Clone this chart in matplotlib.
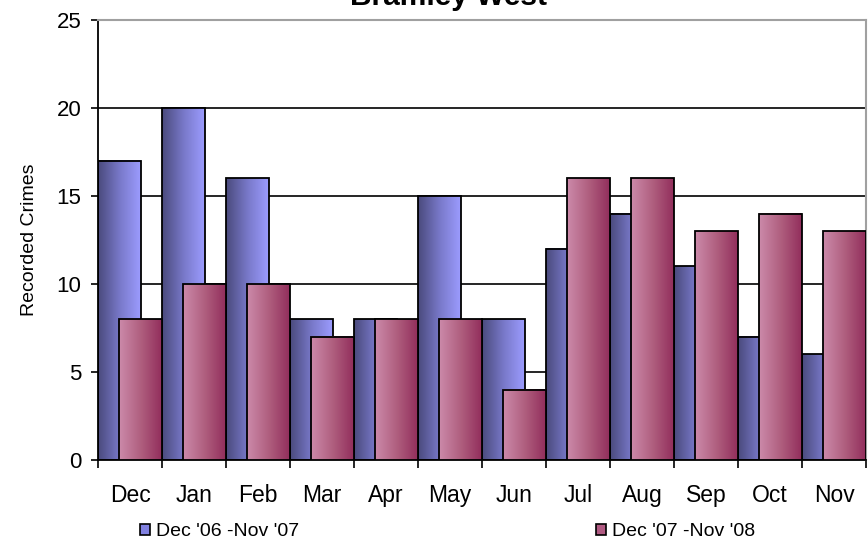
import matplotlib
matplotlib.use("Agg")
import matplotlib.pyplot as plt
import numpy as np
from matplotlib.colors import LinearSegmentedColormap
from matplotlib.patches import Patch

months = ["Dec", "Jan", "Feb", "Mar", "Apr", "May", "Jun", "Jul", "Aug", "Sep", "Oct", "Nov"]
crimes_0607 = [17, 20, 16, 8, 8, 15, 8, 12, 14, 11, 7, 6]
crimes_0708 = [8, 10, 10, 7, 8, 8, 4, 16, 16, 13, 14, 13]
series_names = ["Dec '06 -Nov '07", "Dec '07 -Nov '08"]

plt.rcParams['font.family'] = ['Liberation Sans', 'DejaVu Sans']

blue_cmap = LinearSegmentedColormap.from_list("b", ["#4a4a7c", "#7878c8", "#9c9cff"])
pink_cmap = LinearSegmentedColormap.from_list("p", ["#cc8aaa", "#b0607f", "#922e5c"])


def gradient_bars(ax, bars, cmap, z):
    g = np.linspace(0, 1, 256).reshape(1, -1)
    for b in bars:
        x0 = b.get_x()
        w = b.get_width()
        h = b.get_height()
        ax.imshow(g, extent=[x0, x0 + w, 0, h], aspect='auto', cmap=cmap,
                  zorder=z, interpolation='bilinear')


def main():
    fig = plt.figure(figsize=(8.68, 5.41), dpi=100)
    ax = fig.add_axes([98 / 868, 81 / 541, 768 / 868, 440 / 541])

    x = np.arange(len(months))
    w = 0.67
    b1 = ax.bar(x, crimes_0607, width=w, align='edge', fill=False,
                edgecolor='black', linewidth=1.3, zorder=3)
    gradient_bars(ax, b1, blue_cmap, 2)
    b2 = ax.bar(x + (1 - w), crimes_0708, width=w, align='edge', fill=False,
                edgecolor='black', linewidth=1.3, zorder=5)
    gradient_bars(ax, b2, pink_cmap, 4)

    ax.set_xlim(0, len(months))
    ax.set_ylim(0, 25)
    ax.set_yticks(range(0, 26, 5))
    for yv in range(5, 25, 5):
        ax.axhline(yv, color='black', lw=1.2, zorder=1)

    ax.set_xticks(range(0, len(months) + 1))
    ax.set_xticklabels([])
    ax.set_xticks(x + 0.5, minor=True)
    ax.set_xticklabels(months, minor=True, fontsize=16.5)
    ax.tick_params(axis='x', which='major', length=6, width=1.2, direction='out')
    ax.tick_params(axis='x', which='minor', length=0, pad=17)
    ax.tick_params(axis='y', length=5, width=1.2, labelsize=16, pad=7)

    for s in ['left', 'bottom']:
        ax.spines[s].set_linewidth(1.3)
        ax.spines[s].set_color('black')
    for s in ['top', 'right']:
        ax.spines[s].set_color('#a0a0a0')
        ax.spines[s].set_linewidth(1.5)

    ax.set_ylabel("Recorded Crimes", fontsize=14)
    ax.yaxis.set_label_coords(-60 / 768, 0.5)

    fig.text(448 / 868, 1 - 5 / 541, "Bramley West", ha='center', va='baseline',
             fontsize=21.5, fontweight='bold')

    handles = [Patch(facecolor="#8080e0", edgecolor='black', linewidth=1.2),
               Patch(facecolor="#b05a82", edgecolor='black', linewidth=1.2)]
    fig.legend(handles, series_names, loc='center left', bbox_to_anchor=(140 / 868, 1 - 532 / 541),
               ncol=2, frameon=False, fontsize=14, handlelength=0.5, handleheight=0.5,
               handletextpad=0.3, columnspacing=15.3, borderaxespad=0, borderpad=0)

    fig.savefig("out.png", dpi=100)


if __name__ == '__main__':
    main()
